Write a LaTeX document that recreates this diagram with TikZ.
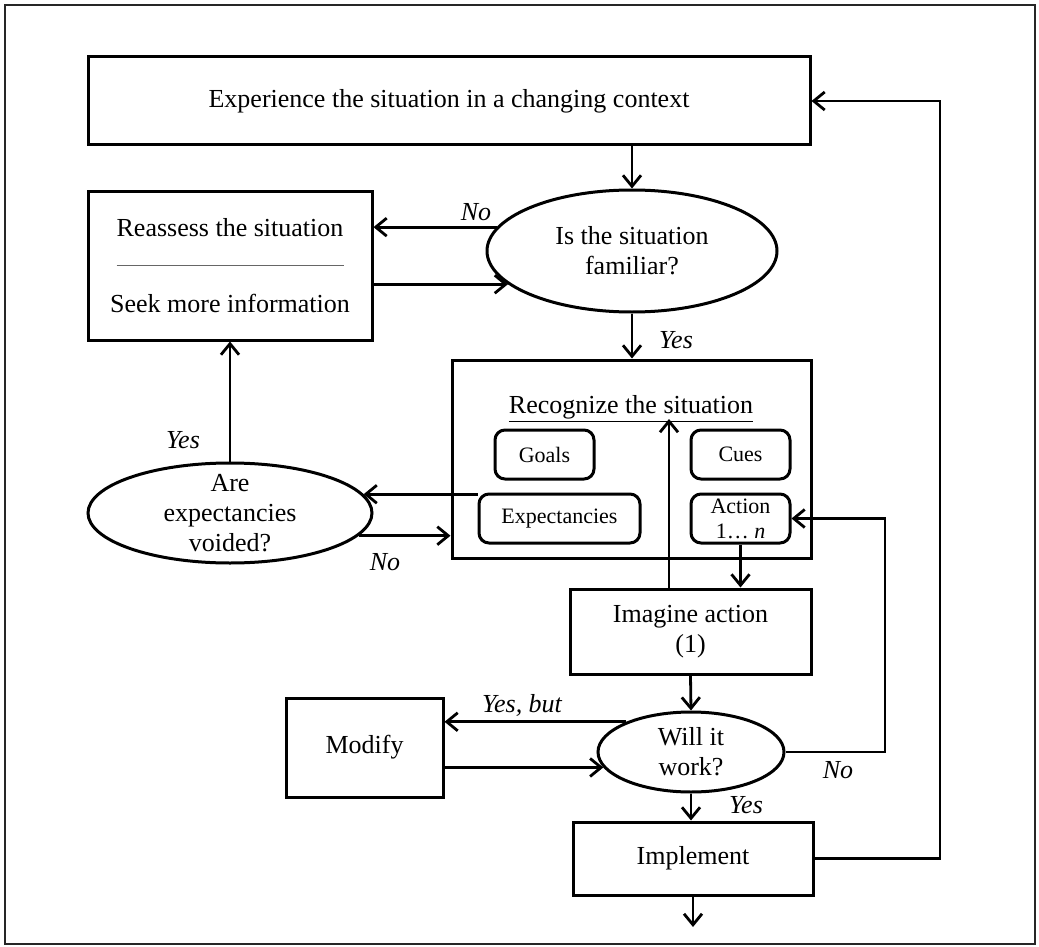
\documentclass[tikz,border=0pt]{standalone}
\usepackage{fontspec}
\setmainfont{Liberation Serif}
\usetikzlibrary{
  arrows.meta,
  positioning,
  shapes.geometric,
}
\tikzstyle{box} = [
  draw,
  line width=1.5pt,
  inner sep=2pt,
  align=center,
  font=\fontsize{13}{15}\selectfont,
]
\tikzstyle{decision} = [
  ellipse,
  draw,
  line width=1.5pt,
  inner sep=0pt,
  align=center,
  font=\fontsize{13}{15}\selectfont,
]
\tikzstyle{item} = [
  draw,
  rounded corners=5pt,
  line width=1.5pt,
  inner sep=1pt,
  align=center,
  font=\fontsize{11}{12.5}\selectfont,
]
\tikzstyle{arrow} = [
  -{Straight Barb[length=5.5pt,width=9pt]},
  line width=1.4pt,
]
\tikzstyle{answer} = [
  font=\fontsize{13}{15}\selectfont\itshape,
]

\begin{document}
\begin{tikzpicture}[x=0.5pt, y=-0.5pt]

        \useasboundingbox (0,0) rectangle (1039,947);
        \draw [line width=1.2pt, black!85] (5,5) rectangle (1035,944);

        \node [box, minimum width=361pt, minimum height=44pt] (exp) at (449,101)
              {Experience the situation in a changing context};

        \node [decision, minimum width=145pt, minimum height=61pt] (fam) at (632,251)
              {Is the situation\\familiar?};

        \node [box, minimum width=142pt, minimum height=74.5pt] (reas) at (230,265.5)
              {Reassess the situation\\[23pt]Seek more information};
        \draw [black!60, line width=0.5pt] ([xshift=15pt]reas.west) -- ([xshift=-15pt]reas.east);

        \node [box, minimum width=179.5pt, minimum height=99pt] (rec) at (631.5,459) {};
        \node [font=\fontsize{13}{15}\selectfont] (rectitle) at (631,409)
              {\underline{Recognize the situation}};

        \node [item, minimum width=49.5pt, minimum height=24.5pt] (goals) at (544.5,454.5) {Goals};
        \node [item, minimum width=49.5pt, minimum height=24.5pt] (cues) at (740.5,454.5) {Cues};
        \node [item, minimum width=80.5pt, minimum height=24.5pt] (expc) at (559.5,518.5) {Expectancies};
        \node [item, minimum width=49.5pt, minimum height=24.5pt] (act) at (740.5,518.5)
              {Action\\1… \textit{n}};

        \node [decision, minimum width=142pt, minimum height=50pt, inner ysep=-6pt] (are) at (230,513)
              {Are\\expectancies\\voided?};

        \node [box, minimum width=120.5pt, minimum height=42.5pt] (img) at (690.5,631.5)
              {Imagine action\\(1)};

        \node [decision, minimum width=93pt, minimum height=40pt] (will) at (691,752)
              {Will it\\work?};

        \node [box, minimum width=78.5pt, minimum height=49.5pt] (mod) at (364.5,747.5) {Modify};

        \node [box, minimum width=120pt, minimum height=36.5pt] (impl) at (693,858.5) {Implement};

        \node [answer] (no1) at (476,212) {No};
        \node [answer] (yes1) at (676,340) {Yes};
        \node [answer] (yes2) at (183,440) {Yes};
        \node [answer] (no2) at (385,562) {No};
        \node [answer] (yesbut) at (522,705) {Yes, but};
        \node [answer] (no3) at (838,770) {No};
        \node [answer] (yes3) at (746,805) {Yes};

        \coordinate (up) at (669,419);
        \coordinate (nox) at (885,520);
        \coordinate (backx) at (940,101);
        \coordinate (out) at (693,927);

        \draw [arrow] (exp.south -| fam.north) -- (fam.north);
        \draw [arrow] (fam.170) -- (fam.170 -| reas.east);
        \draw [arrow] (reas.east |- fam.195) -- (fam.195);
        \draw [arrow] (fam.south) -- (rec.north -| fam.south);

        \draw [arrow] (are.8 -| expc.west) -- (are.8);
        \draw [arrow] (are.350) -- (are.350 -| rec.west);
        \draw [arrow] (are.north) -- (reas.south);

        \draw [arrow] (img.north -| up) -- (up);
        \draw [arrow] (act.south) -- (act.south |- img.north);
        \draw [arrow] (img.south) -- (will.north);

        \draw [arrow] (will.east) -| (nox |- act.east) -- (act.east);
        \draw [arrow] (will.155) -- (will.155 -| mod.east);
        \draw [arrow] (mod.east |- will.190) -- (will.190);
        \draw [arrow] (will.south) -- (will.south |- impl.north);

        \draw [arrow] (impl.east) -| (backx |- exp.east) -- (exp.east);
        \draw [arrow] (impl.south) -- (out);
      \end{tikzpicture}
\end{document}
